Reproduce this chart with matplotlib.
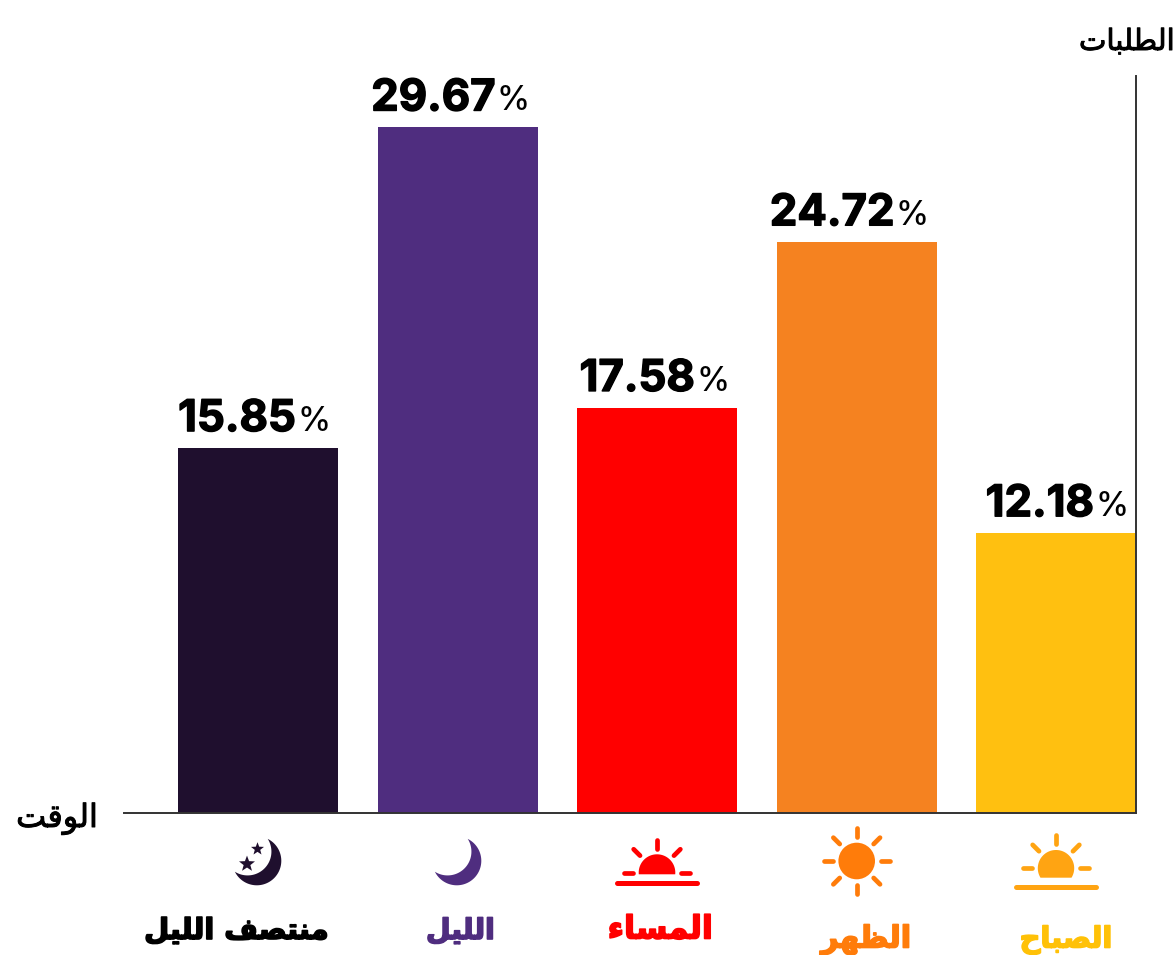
import numpy as np
import matplotlib
matplotlib.use("Agg")
import matplotlib.pyplot as plt
from matplotlib.patches import Circle, Polygon
import matplotlib.patheffects as pe

# Datos del grafico (de izquierda a derecha)
categorias = ["منتصف الليل", "الليل", "المساء", "الظهر", "الصباح"]
valores = [15.85, 29.67, 17.58, 24.72, 12.18]
colores_barra = ["#1f0f2e", "#4f2d7f", "#ff0000", "#f58220", "#ffc010"]
colores_texto = ["#000000", "#4f2d7f", "#ff0000", "#ff7c0a", "#ffc107"]
titulo_y = "الطلبات"
titulo_x = "الوقت"

# Formas de presentacion: aislada, final, inicial, media
FORMAS = {
    "ا": (0xFE8D, 0xFE8E), "ب": (0xFE8F, 0xFE90, 0xFE91, 0xFE92),
    "ت": (0xFE95, 0xFE96, 0xFE97, 0xFE98), "ح": (0xFEA1, 0xFEA2, 0xFEA3, 0xFEA4),
    "ر": (0xFEAD, 0xFEAE), "س": (0xFEB1, 0xFEB2, 0xFEB3, 0xFEB4),
    "ص": (0xFEB9, 0xFEBA, 0xFEBB, 0xFEBC), "ط": (0xFEC1, 0xFEC2, 0xFEC3, 0xFEC4),
    "ظ": (0xFEC5, 0xFEC6, 0xFEC7, 0xFEC8), "ف": (0xFED1, 0xFED2, 0xFED3, 0xFED4),
    "ق": (0xFED5, 0xFED6, 0xFED7, 0xFED8), "ل": (0xFEDD, 0xFEDE, 0xFEDF, 0xFEE0),
    "م": (0xFEE1, 0xFEE2, 0xFEE3, 0xFEE4), "ن": (0xFEE5, 0xFEE6, 0xFEE7, 0xFEE8),
    "ه": (0xFEE9, 0xFEEA, 0xFEEB, 0xFEEC), "و": (0xFEED, 0xFEEE),
    "ي": (0xFEF1, 0xFEF2, 0xFEF3, 0xFEF4), "ء": (0xFE80,),
}


def arabe(texto):
    """Une las letras y las deja en orden visual, matplotlib no lo hace"""
    salida = []
    for n, letra in enumerate(texto):
        if letra not in FORMAS:
            salida.append(letra)
            continue
        prev = texto[n - 1] if n > 0 else " "
        sig = texto[n + 1] if n + 1 < len(texto) else " "
        une_prev = prev in FORMAS and len(FORMAS[prev]) == 4
        une_sig = sig in FORMAS and len(FORMAS[letra]) == 4
        formas = FORMAS[letra]
        if une_prev and une_sig:
            cod = formas[3]
        elif une_prev:
            cod = formas[1]
        elif une_sig:
            cod = formas[2]
        else:
            cod = formas[0]
        salida.append(chr(cod))
    return "".join(reversed(salida))


def grueso(ancho, color):
    return [pe.withStroke(linewidth=ancho, foreground=color)]


fig = plt.figure(figsize=(11.76, 9.55), dpi=100)
ax = fig.add_axes([124 / 1176, (955 - 813) / 955, 1012 / 1176, 737 / 955])
ax.bar(range(5), valores, width=0.802, color=colores_barra)
ax.set_xlim(-0.672, 4.401)
ax.set_ylim(0.12, 31.89)
ax.set_xticks([])
ax.set_yticks([])
ax.spines["top"].set_visible(False)
ax.spines["left"].set_visible(False)
ax.spines["right"].set_color("#333333")
ax.spines["bottom"].set_color("#333333")
ax.spines["right"].set_linewidth(1.4)
ax.spines["bottom"].set_linewidth(1.4)

# Porcentajes encima de cada barra
for i, v in enumerate(valores):
    ax.annotate(f"{v:.2f}", (i, v), xytext=(38, 17), textcoords="offset pixels",
                ha="right", va="baseline", fontsize=31.5, fontweight="bold",
                family="Inter", color="black", path_effects=grueso(1.0, "black"))
    ax.annotate("%", (i, v), xytext=(39, 17), textcoords="offset pixels",
                ha="left", va="baseline", fontsize=24, fontweight="medium",
                family="Inter", color="black")

# Capa en pixeles para iconos y textos de abajo
capa = fig.add_axes([0, 0, 1, 1], facecolor="none")
capa.set_xlim(0, 1176)
capa.set_ylim(955, 0)
capa.axis("off")


def sol(cx, cy, r, color, corte=None, horizonte=None, mitad=40):
    """Sol con rayos, y con horizonte si esta saliendo"""
    if corte is None:
        capa.add_patch(Circle((cx, cy), r, color=color, lw=0))
    else:
        t = np.linspace(0, 2 * np.pi, 200)
        px = cx + r * np.cos(t)
        py = np.minimum(cy + r * np.sin(t), corte)
        capa.add_patch(Polygon(np.c_[px, py], color=color, lw=0))
    for ang in range(0, 360, 45):
        if horizonte is not None and 0 < ang < 180:
            continue  # el eje y crece hacia abajo, estos quedan bajo el horizonte
        a = np.radians(ang)
        capa.plot([cx + 24 * np.cos(a), cx + 33 * np.cos(a)],
                  [cy + 24 * np.sin(a), cy + 33 * np.sin(a)],
                  color=color, lw=3.4, solid_capstyle="round")
    if horizonte is not None:
        capa.plot([cx - mitad, cx + mitad], [horizonte, horizonte], color=color,
                  lw=3.6, solid_capstyle="round")


def luna(cx, cy, r, color, grosor=13):
    """Media luna: circulo menos el mismo circulo corrido hacia arriba a la izquierda"""
    t = np.radians(np.linspace(-63.5, 153.5, 80))
    borde = np.c_[cx + r * np.cos(t), cy + r * np.sin(t)]
    ix = cx - grosor * np.cos(np.radians(45))
    iy = cy - grosor * np.sin(np.radians(45))
    r2 = np.hypot(borde[0, 0] - ix, borde[0, 1] - iy)
    a0 = np.arctan2(borde[-1, 1] - iy, borde[-1, 0] - ix)
    a1 = np.arctan2(borde[0, 1] - iy, borde[0, 0] - ix)
    s = np.linspace(a0, a1, 80)
    dentro = np.c_[ix + r2 * np.cos(s), iy + r2 * np.sin(s)]
    capa.add_patch(Polygon(np.r_[borde, dentro], color=color, lw=0))


def estrella(cx, cy, r, color):
    ang = np.radians(-90 + 36 * np.arange(10))
    rad = np.where(np.arange(10) % 2 == 0, r, r * 0.42)
    capa.add_patch(Polygon(np.c_[cx + rad * np.cos(ang), cy + rad * np.sin(ang)], color=color, lw=0))


luna(256.8, 860.8, 24.5, "#1f0f2e")
estrella(257.5, 849, 6.8, "#1f0f2e")
estrella(247, 864, 8.4, "#1f0f2e")
luna(456.8, 860.8, 24.5, "#4f2d7f")
sol(657, 872.6, 18.3, "#ff0000", corte=874.3, horizonte=883.3)
sol(856.7, 861, 18.3, "#ff7c0a")
sol(1056, 868.2, 18.2, "#ffa412", corte=877.7, horizonte=887.3)

# Nombres de las franjas horarias
centros = [236.5, 460.5, 660.5, 866, 1066]
bases = [939, 939, 938.5, 947.5, 947.5]
tamanos = [20.8, 20.4, 23, 21.8, 20.8]
for nombre, cx, y, tam, col in zip(categorias, centros, bases, tamanos, colores_texto):
    capa.text(cx, y, arabe(nombre), ha="center", va="baseline", fontsize=tam,
              fontweight="bold", family="DejaVu Sans", color=col,
              path_effects=grueso(1.2, col))

capa.text(1175, 50, arabe(titulo_y), ha="right", va="baseline", fontsize=21,
          family="DejaVu Sans", color="black", path_effects=grueso(0.7, "black"))
capa.text(98, 827, arabe(titulo_x), ha="right", va="baseline", fontsize=23,
          family="DejaVu Sans", color="black", path_effects=grueso(0.7, "black"))

fig.savefig("out.png", dpi=100)
